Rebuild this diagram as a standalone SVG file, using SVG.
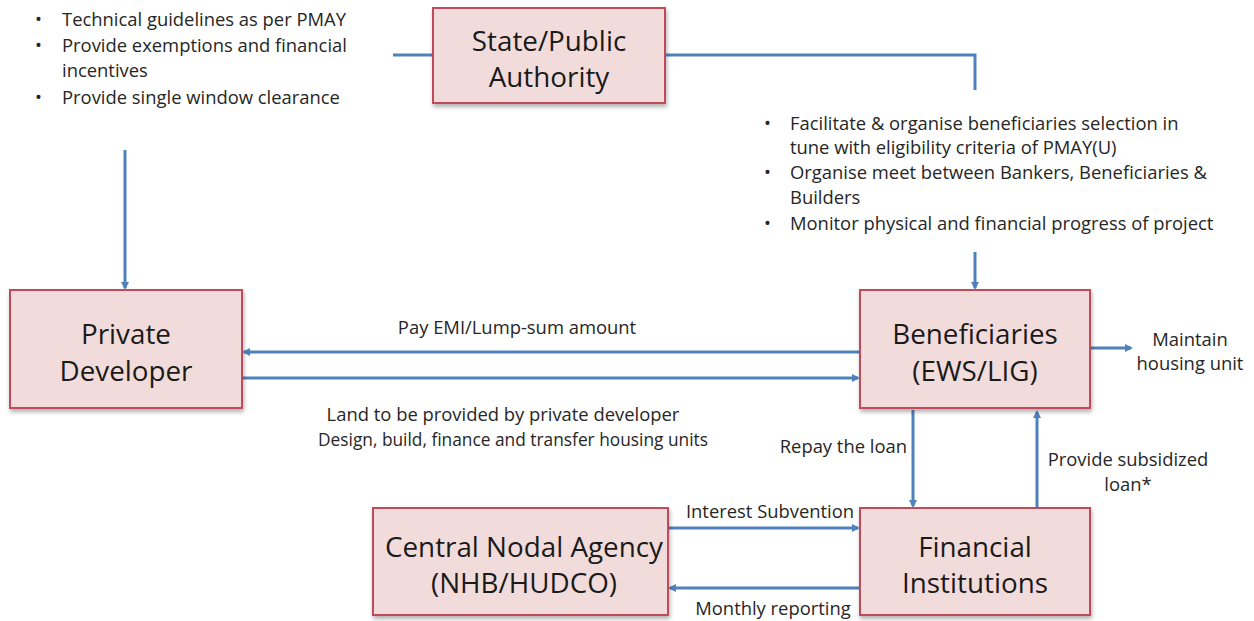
<svg xmlns="http://www.w3.org/2000/svg" width="1254" height="621" viewBox="0 0 1254 621">
<defs>
<marker id="ah" markerWidth="8" markerHeight="8" refX="6" refY="4" orient="auto" markerUnits="userSpaceOnUse">
<path d="M0,0 L8,4 L0,8 Z" fill="#4f81bd"/>
</marker>
<filter id="sh" x="-5%" y="-5%" width="115%" height="120%">
<feDropShadow dx="1" dy="3" stdDeviation="2" flood-color="#000" flood-opacity="0.3"/>
</filter>
</defs>
<style>
.box{fill:#f2dcdb;stroke:#c0485a;stroke-width:2;filter:url(#sh)}
.bt{font-family:"Open Sans","Liberation Sans",sans-serif;font-size:27.8px;fill:#1a1a1a;text-anchor:middle}
.t{font-family:"Open Sans","Liberation Sans",sans-serif;font-size:18.4px;fill:#262626}
.c{text-anchor:middle}
.r{text-anchor:end}
.ln{stroke:#4f81bd;stroke-width:3;fill:none}
.ar{stroke:#4f81bd;stroke-width:3;fill:none;marker-end:url(#ah)}
</style>
<rect width="1254" height="621" fill="#fff"/>

<g id="connectors">
<path class="ln" d="M393,55 H433"/>
<path class="ln" d="M665,55 H975 V90"/>
<path class="ar" d="M125,150 V288"/>
<path class="ar" d="M975,252 V288"/>
<path class="ar" d="M860,352 H244"/>
<path class="ar" d="M242,378 H858"/>
<path class="ar" d="M1090,348 H1131"/>
<path class="ar" d="M913,410 V506"/>
<path class="ar" d="M1037,508 V412"/>
<path class="ar" d="M668,528 H858"/>
<path class="ar" d="M860,588 H670"/>
</g>

<g id="notes-state">
<text class="t" x="35" y="26">•</text>
<text class="t" x="62" y="26">Technical guidelines as per PMAY</text>
<text class="t" x="35" y="52">•</text>
<text class="t" x="62" y="52">Provide exemptions and financial</text>
<text class="t" x="62" y="77">incentives</text>
<text class="t" x="35" y="104">•</text>
<text class="t" x="62" y="104">Provide single window clearance</text>
</g>

<g id="notes-benef">
<text class="t" x="764" y="130">•</text>
<text class="t" x="790" y="130">Facilitate &amp; organise beneficiaries selection in</text>
<text class="t" x="790" y="154">tune with eligibility criteria of PMAY(U)</text>
<text class="t" x="764" y="179">•</text>
<text class="t" x="790" y="179">Organise meet between Bankers, Beneficiaries &amp;</text>
<text class="t" x="790" y="204">Builders</text>
<text class="t" x="764" y="230">•</text>
<text class="t" x="790" y="230">Monitor physical and financial progress of project</text>
</g>

<g id="node-state">
<rect class="box" x="433" y="8" width="232" height="95"/>
<text class="bt" x="549" y="51">State/Public</text>
<text class="bt" x="549" y="87">Authority</text>
</g>

<g id="node-developer">
<rect class="box" x="10" y="290" width="232" height="118"/>
<text class="bt" x="126" y="344">Private</text>
<text class="bt" x="126" y="381">Developer</text>
</g>

<g id="node-beneficiaries">
<rect class="box" x="860" y="290" width="230" height="118"/>
<text class="bt" x="975" y="344">Beneficiaries</text>
<text class="bt" x="975" y="381">(EWS/LIG)</text>
</g>

<g id="node-cna">
<rect class="box" x="373" y="508" width="295" height="107"/>
<text class="bt" x="524" y="557">Central Nodal Agency</text>
<text class="bt" x="524" y="593">(NHB/HUDCO)</text>
</g>

<g id="node-fi">
<rect class="box" x="860" y="508" width="230" height="107"/>
<text class="bt" x="975" y="557">Financial</text>
<text class="bt" x="975" y="593">Institutions</text>
</g>

<g id="labels">
<text class="t c" x="517" y="334">Pay EMI/Lump-sum amount</text>
<text class="t c" x="503" y="421">Land to be provided by private developer</text>
<text class="t c" x="513" y="446" textLength="390" lengthAdjust="spacingAndGlyphs">Design, build, finance and transfer housing units</text>
<text class="t c" x="1190" y="346">Maintain</text>
<text class="t c" x="1190" y="370">housing unit</text>
<text class="t r" x="907" y="453">Repay the loan</text>
<text class="t c" x="1128" y="466">Provide subsidized</text>
<text class="t c" x="1128" y="491">loan*</text>
<text class="t c" x="770" y="518">Interest Subvention</text>
<text class="t c" x="773" y="615">Monthly reporting</text>
</g>
</svg>
